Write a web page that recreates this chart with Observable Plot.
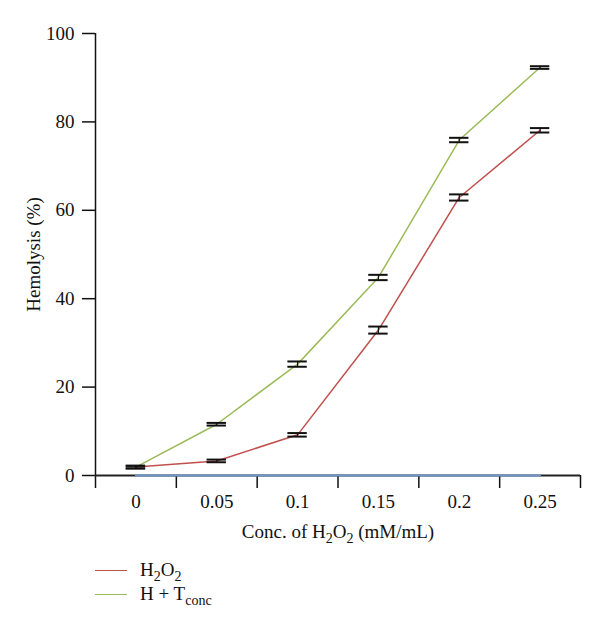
<!DOCTYPE html>
<html>
<head>
<meta charset="utf-8">
<script src="https://cdn.jsdelivr.net/npm/d3@7"></script>
<script src="https://cdn.jsdelivr.net/npm/@observablehq/plot@0.6"></script>
<style>
  body { margin: 0; background: #fff; }
  #legend { font-family: "Liberation Serif", "DejaVu Serif", serif; font-size: 19px; color: #111; position: relative; height: 73px; }
  .item { position: absolute; left: 95px; display: flex; align-items: center; }
  .sw { width: 32px; height: 0; border-top: 1.5px solid; margin-right: 13px; }
  sub { font-size: 14px; vertical-align: -5px; line-height: 0; }
</style>
</head>
<body>
<div id="chart"></div>
<div id="legend">
  <div class="item" style="top:4px"><span class="sw" style="border-color:#c0504d"></span><span>H<sub>2</sub>O<sub>2</sub></span></div>
  <div class="item" style="top:28px"><span class="sw" style="border-color:#9bbb59"></span><span>H + T<sub>conc</sub></span></div>
</div>
<script>
const concentrations = [0, 0.05, 0.1, 0.15, 0.2, 0.25];
const concLabels = ["0", "0.05", "0.1", "0.15", "0.2", "0.25"];
const h2o2 = [1.9, 3.3, 9.2, 32.9, 62.9, 78.1];
const h2o2Err = [0.3, 0.3, 0.4, 0.8, 0.7, 0.5];
const hTconc = [1.9, 11.6, 25.2, 44.8, 75.9, 92.3];
const hTconcErr = [0.3, 0.3, 0.6, 0.6, 0.5, 0.3];
const baseline = [0, 0, 0, 0, 0, 0];
const yTicks = [0, 20, 40, 60, 80, 100];
const xBoundaries = [-0.025, 0.025, 0.075, 0.125, 0.175, 0.225, 0.275];

const rows = (vals, errs, name) => concentrations.map((c, i) => ({x: c, y: vals[i], e: errs ? errs[i] : 0, name}));
const red = rows(h2o2, h2o2Err, "H2O2");
const green = rows(hTconc, hTconcErr, "H + Tconc");
const blue = rows(baseline, null, "base");
const all = [...red, ...green];
const capHalf = 0.006;

const plot = Plot.plot({
  width: 600,
  height: 555,
  marginLeft: 95,
  marginRight: 20,
  marginTop: 33,
  marginBottom: 80,
  style: {fontFamily: "'Liberation Serif', 'DejaVu Serif', serif", fontSize: "19px", color: "#111", background: "#fff"},
  x: {domain: [-0.025, 0.275], axis: null},
  y: {domain: [0, 100], axis: null},
  marks: [
    Plot.axisY({ticks: yTicks, tickSize: 13, tickPadding: 8, label: null, stroke: "#111", strokeWidth: 1.5, fontSize: 19}),
    Plot.ruleX([-0.025], {y1: 0, y2: 100, stroke: "#111", strokeWidth: 1.5}),
    Plot.axisX({ticks: xBoundaries, tickSize: 13, tickFormat: () => "", label: null, stroke: "#111", strokeWidth: 1.5}),
    Plot.axisX({ticks: concentrations, tickSize: 0, tickPadding: 19, tickFormat: (d, i) => concLabels[i], label: null, fontSize: 19}),
    Plot.ruleY([0], {x1: -0.025, x2: 0.275, stroke: "#222", strokeWidth: 2}),
    Plot.line(blue, {x: "x", y: "y", stroke: "#7096c8", strokeWidth: 2}),
    Plot.line(red, {x: "x", y: "y", stroke: "#c0504d", strokeWidth: 1.5}),
    Plot.line(green, {x: "x", y: "y", stroke: "#9bbb59", strokeWidth: 1.5}),
    Plot.ruleX(all, {x: "x", y1: d => d.y - d.e, y2: d => d.y + d.e, stroke: "#111", strokeWidth: 1.2}),
    Plot.ruleY(all, {y: d => d.y + d.e, x1: d => d.x - capHalf, x2: d => d.x + capHalf, stroke: "#111", strokeWidth: 2}),
    Plot.ruleY(all, {y: d => d.y - d.e, x1: d => d.x - capHalf, x2: d => d.x + capHalf, stroke: "#111", strokeWidth: 2}),
    Plot.text(["Hemolysis (%)"], {frameAnchor: "left", dx: -62, rotate: -90, textAnchor: "middle", lineAnchor: "middle", fill: "#111", fontSize: 19, className: "ylab"}),
    Plot.text(["Conc. of H2O2 (mM/mL)"], {frameAnchor: "bottom", dy: 56, textAnchor: "middle", lineAnchor: "middle", fill: "#111", fontSize: 19, className: "xlab"})
  ]
});
// add subscripts to the x-axis label
d3.select(plot).selectAll(".xlab text").each(function() {
  const t = d3.select(this);
  t.text(null);
  const parts = [["Conc. of H", 0], ["2", 1], ["O", 0], ["2", 1], [" (mM/mL)", 0]];
  parts.forEach(([s, sub]) => {
    const ts = t.append("tspan").text(s);
    if (sub) ts.attr("font-size", 14).attr("dy", 5);
    else ts.attr("dy", 0);
  });
  // reset baseline after subscripts
  t.selectAll("tspan").each(function(d, i) {
    const el = d3.select(this);
    if (i === 2 || i === 4) el.attr("dy", -5);
  });
});
document.getElementById("chart").appendChild(plot);
</script>
</body>
</html>
